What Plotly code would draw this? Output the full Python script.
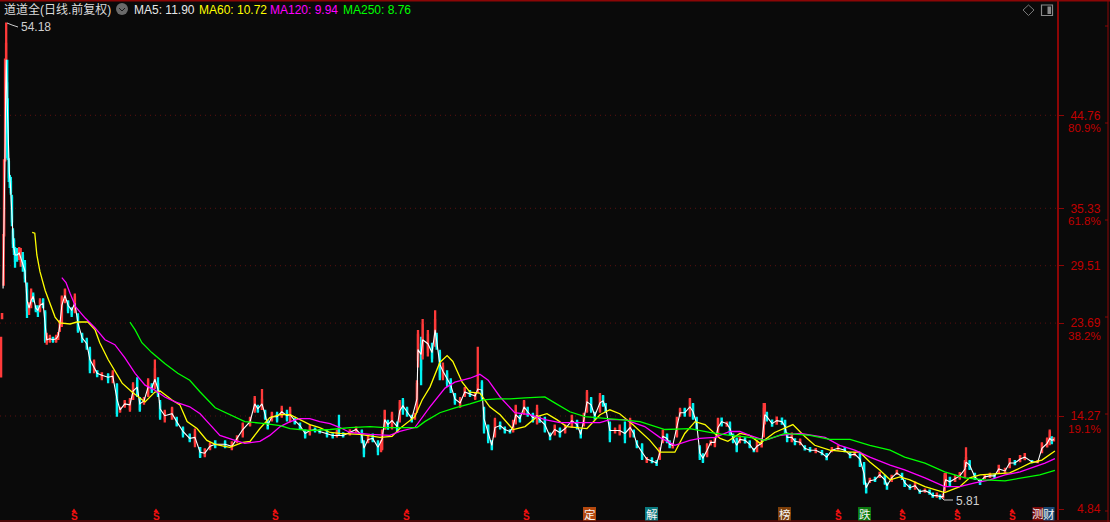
import plotly.graph_objects as go

W, H = 1110, 522

# ---------- candles (price units) ----------
session = [
    0,2,5,6,8,10,12,13,15,17, 19,21,23,25,27,31,35,38,42,46, 50,54,58,62,67,71,75,81,85,88,
    94,100,106,110,113,117,123,129,136,142, 148,156,165,171,179,185,194,206,215,223,
    229,238,248,254,262,267,275,283,290,296, 302,306,315,329,338,350,363,373,383,392,
    402,412,431,444,454,465,479,488,494,502, 508,513,521,531,540,550,556,565,575,585,
    594,604,613,627,638,646,650,658,671,683, 694,698,706,715,725,731,733,738,744,752,
    762,767,773,781,790,796,800,802,808,811, 821,829,835,838,844,850,858,865,873,883,
    892,902,912,917,925,929,937,944,950,960, 969,979,985,990,998,1006,1013,1023,1031,1036,
    1046,1056,1065,1075,1085,1098,1108,1115,1121,1127, 1135,1142,1152,1158,1163,1171,1181,1190,1200,1210,
    1217,1223,1233,1242,1252,1261,1267,1273,1281,1286, 1292,1300,1306,1315,1325,1331,1338,1344,1350,1358,
    1365,1373,1379,1386,1396,1402,1408,1415,1421,1431, 1440,1448,1454,1463,1467,1469,1473,1483,1492,1502,
    1508,1512,1521,1527,1537,1546,1556,1567,1579,1588, 1598,1610,1623,1633,1642,1652,1660,1664,1671,1681,
    1690,1700,1704,1713,1723,1733,1738,1748,1758,1767, 1777,1786,1792,1800,1806,1812,1815,1817,1825,1835,
    1844,1854,1856,1863,1873,1883,1892,1902,1911,1919, 1931,1940,1950,1960,1969,1983,1994,2002,2012,2017,
    2021,2025,
]
high = [
    22.2,24.6,32.6,40.2,50.4,54.18,50.4,46.5,40.4,38.7, 38.5,36.7,33.3,32.3,31.4,31.3,31.4,31.3,30.9,30.1, 27.8,25.8,27.2,26.8,25.5,25.5,26.2,26.2,25.0,22.7,
    22.5,22.3,22.5,22.8,24.0,26.5,27.2,26.0,25.3,26.7, 24.7,22.7,22.2,21.3,20.0,18.9,18.7,18.6,18.9,17.6,
    15.2,15.9,16.1,17.7,18.2,16.2,16.2,18.1,17.6,20.0, 18.2,15.9,14.9,15.2,14.2,13.2,12.5,13.0,11.1,11.0,
    11.6,11.8,11.8,11.7,12.3,13.6,14.2,16.3,15.4,17.0, 14.9,13.9,14.7,14.7,15.3,14.9,15.2,14.1,13.6,12.9,
    13.4,13.1,12.9,12.9,12.5,12.9,14.4,12.6,12.9,13.2, 12.9,11.8,12.3,12.5,11.8,11.8,12.9,14.9,13.9,14.7,
    13.7,15.9,16.1,15.2,14.4,14.6,17.9,23.0,22.3,24.1, 23.0,21.7,25.0,22.7,21.0,19.7,18.9,18.1,16.6,16.2,
    17.2,16.9,16.6,21.3,17.9,15.2,13.4,11.8,14.1,13.7, 13.2,12.9,13.9,15.4,14.4,15.9,15.2,14.6,15.4,14.2,
    14.2,12.6,13.4,13.1,13.4,14.4,13.9,12.9,14.6,16.9, 16.2,14.7,16.6,16.4,15.6,13.7,13.1,13.4,13.7,14.1,
    12.9,11.8,11.5,10.1,10.1,9.8,11.1,12.9,12.5,11.8, 11.5,14.2,15.1,15.1,16.1,15.6,14.2,11.3,10.5,11.5,
    11.8,12.1,14.1,14.1,13.7,13.7,12.5,12.1,12.3,12.1, 11.8,11.0,11.8,12.0,15.6,15.6,14.7,13.9,14.2,14.1,
    13.9,12.6,12.6,12.0,12.0,11.3,11.1,11.0,10.8,10.5, 11.1,11.3,11.1,10.6,10.6,10.6,9.6,7.5,8.0,8.1,
    8.6,8.3,7.5,8.3,8.8,8.5,7.8,7.3,7.6,6.8, 6.9,6.8,6.5,6.5,6.3,6.4,8.5,8.5,8.1,8.3,
    8.6,9.8,11.1,9.8,8.5,7.8,8.3,8.5,8.4,9.3, 9.0,10.0,9.8,10.3,10.5,9.8,9.8,11.6,12.1,12.9,
    12.2,12.1,
]
low = [
    18.3,24.2,27.6,32.6,40.2,49.0,40.4,40.2,38.0,37.4, 36.7,33.5,31.3,30.6,29.3,29.9,30.1,29.4,28.9,27.8, 24.2,24.5,25.2,25.8,24.8,24.3,24.8,25.2,21.7,21.5,
    21.7,21.7,21.7,22.0,22.8,23.3,25.7,24.7,24.3,24.7, 22.7,21.7,21.0,18.6,18.6,18.2,17.9,17.6,17.6,14.2,
    14.6,15.1,14.7,15.9,16.2,14.7,15.4,16.2,16.6,17.0, 16.2,13.9,13.6,13.9,13.2,12.1,11.6,11.1,10.0,10.1,
    10.8,11.0,11.0,10.8,11.5,12.1,13.2,14.6,14.6,14.9, 13.9,12.9,13.7,13.6,14.1,13.7,13.6,13.4,12.9,12.0,
    12.3,12.6,12.5,12.1,12.0,12.1,12.3,12.1,12.3,12.6, 11.5,10.1,11.5,11.6,10.3,10.6,10.8,12.9,12.9,12.9,
    12.6,13.6,14.4,14.2,13.6,13.9,14.6,19.2,17.4,20.0, 20.3,19.7,21.3,21.0,17.9,17.9,17.2,16.6,15.4,15.1,
    16.2,16.2,15.9,16.6,15.9,12.5,11.5,10.8,12.1,12.9, 12.5,12.5,12.6,13.4,13.6,14.4,14.2,13.6,13.4,13.6,
    12.6,11.8,12.3,12.1,12.5,13.1,12.9,12.0,13.2,14.6, 14.6,13.9,14.6,15.2,14.6,11.6,12.5,12.3,11.5,12.1,
    12.1,11.0,9.8,9.5,9.5,9.2,9.8,11.5,11.5,11.0, 11.0,12.1,14.2,14.2,14.2,13.9,12.9,9.8,9.5,10.1,
    11.3,11.1,12.1,13.2,13.2,12.3,11.5,10.6,11.5,11.5, 11.0,10.6,10.6,11.1,12.1,13.4,13.7,13.2,13.4,13.4,
    12.5,11.6,11.6,11.3,11.3,10.8,10.6,10.5,10.3,9.8, 10.6,10.8,10.6,10.0,10.2,9.1,7.3,6.4,7.5,7.6,
    8.0,7.3,6.8,7.6,8.3,7.8,7.1,6.8,6.8,6.4, 6.5,6.3,6.0,6.0,5.81,5.9,6.6,7.1,7.1,7.6,
    7.8,8.0,9.1,8.8,7.8,7.3,8.0,8.0,8.0,8.5, 8.5,9.0,9.3,9.6,9.8,9.5,9.5,10.5,11.1,11.3,
    11.4,11.7,
]
opening = [
    18.3,24.2,27.6,32.6,40.2,50.4,48.0,44.0,40.0,38.5, 38.0,36.4,33.0,32.0,31.0,31.0,30.5,30.0,30.5,29.7, 27.0,25.0,25.7,26.5,25.3,25.3,25.0,26.0,24.7,21.8,
    21.9,22.2,21.9,22.1,23.0,23.6,26.0,25.8,25.1,25.0, 24.3,22.5,21.9,21.0,19.0,18.8,18.2,18.4,18.0,17.4,
    14.8,15.3,15.0,16.0,17.8,16.0,15.7,16.4,17.3,17.3, 17.5,15.6,14.0,14.0,14.0,13.0,12.3,11.6,11.0,10.3,
    11.0,11.7,11.6,11.0,11.7,12.4,13.4,14.9,15.2,15.0, 14.7,13.6,13.9,14.4,14.3,14.6,13.9,13.9,13.5,12.7,
    12.5,13.0,12.8,12.7,12.4,12.3,12.8,12.5,12.4,12.7, 12.7,11.6,11.7,12.3,11.6,10.9,11.0,13.0,13.7,13.2,
    13.5,14.0,15.8,15.0,14.2,14.0,15.0,20.0,21.5,20.5, 20.8,21.2,22.0,22.4,20.7,18.2,18.5,17.8,16.4,15.4,
    16.4,16.7,16.1,16.8,17.6,15.0,13.2,11.6,12.4,13.5, 13.0,12.8,12.8,13.6,14.2,14.6,15.0,14.4,13.6,14.1,
    14.0,12.4,12.5,12.9,12.7,13.3,13.7,12.7,13.4,14.8, 16.0,14.5,14.8,16.2,15.4,13.5,12.6,12.5,13.0,12.4,
    12.7,11.6,11.3,9.7,9.9,9.7,10.0,11.7,12.3,11.6, 11.1,12.3,14.4,14.9,14.4,15.4,14.0,11.0,10.3,10.3,
    11.4,11.3,12.3,14.0,13.3,13.5,12.3,11.9,11.7,12.0, 11.6,10.9,10.7,11.2,12.3,13.6,14.5,13.8,13.5,14.0,
    13.7,12.4,11.8,11.9,11.5,11.2,11.0,10.6,10.7,10.4, 10.7,10.9,11.0,10.5,10.3,10.4,9.3,7.3,7.6,8.0,
    8.1,8.2,7.4,7.7,8.4,8.4,7.7,7.2,6.9,6.7, 6.6,6.7,6.4,6.1,6.2,6.0,6.8,7.3,8.0,7.7,
    8.0,8.2,9.3,9.6,8.4,7.7,8.0,8.1,8.3,8.6, 8.6,9.1,9.7,9.7,9.9,9.7,9.6,10.6,11.2,11.5,
    12.1,11.8,
]
closing = [
    22.2,24.6,32.6,40.2,50.4,52.0,43.0,40.4,38.5,37.5, 37.0,34.0,31.8,31.0,30.0,30.3,31.0,30.8,29.5,28.3, 25.0,25.5,26.8,26.0,25.0,24.8,25.9,25.4,22.0,22.3,
    22.3,21.9,22.3,22.6,23.8,26.2,27.0,25.0,24.6,26.3, 23.0,22.0,21.3,19.0,19.7,18.4,18.6,18.0,18.6,14.6,
    15.0,15.7,15.8,17.4,16.5,15.0,16.0,17.8,16.9,19.0, 16.5,14.2,14.6,15.0,13.4,12.4,11.8,12.6,10.2,10.8,
    11.4,11.2,11.2,11.5,12.2,13.4,14.0,16.0,14.8,15.9, 14.1,13.1,14.5,13.9,15.0,14.0,14.9,13.6,13.0,12.2,
    13.1,12.8,12.6,12.3,12.2,12.6,12.4,12.2,12.8,13.1, 11.8,10.5,12.1,11.8,10.7,11.5,12.7,14.7,13.0,14.4,
    12.9,15.6,14.8,14.4,13.8,14.4,17.5,22.5,19.0,23.5, 22.5,20.2,24.0,21.3,18.3,19.3,17.6,17.0,15.7,15.9,
    17.0,16.4,16.5,17.4,16.2,12.9,11.8,11.0,13.8,13.1, 12.7,12.6,13.7,15.2,13.8,15.7,14.4,13.8,15.0,13.7,
    12.8,12.0,13.2,12.3,13.2,14.2,13.1,12.2,14.4,16.6, 14.9,14.1,16.3,15.4,14.8,12.0,12.9,13.1,12.0,13.8,
    12.3,11.2,10.0,10.0,9.6,9.4,10.9,12.7,11.7,11.2, 11.4,14.0,14.9,14.4,15.9,14.1,13.1,10.1,9.7,11.3,
    11.7,11.9,13.9,13.4,13.6,12.5,11.7,10.8,12.1,11.6, 11.2,10.7,11.6,11.9,15.0,15.3,13.9,13.3,14.1,13.5,
    12.7,11.8,12.4,11.5,11.8,10.9,10.7,10.9,10.4,9.9, 11.0,11.2,10.7,10.1,10.5,9.3,7.6,6.6,7.9,7.7,
    8.5,7.5,6.9,8.2,8.7,7.9,7.2,6.9,7.5,6.5, 6.8,6.4,6.1,6.4,6.0,6.3,8.2,8.2,7.3,8.1,
    8.4,9.6,10.0,9.0,7.9,7.4,8.2,8.4,8.1,9.2, 8.9,9.9,9.4,10.2,10.4,9.6,9.7,11.4,11.9,12.6,
    11.6,12.0,
]

# ---------- moving averages ----------
ma5_session = [
    4,5,6,7,8,9,10,12,14,16,18,20,22,24,27,
    31,35,40,46,50,54,58,62,67,71,75,81,85,88,94,
    100,106,110,113,117,123,129,136,142,148,156,165,171,179,185,
    194,206,215,223,229,238,248,254,262,267,275,283,290,296,302,
    306,315,329,338,350,363,373,383,392,402,412,431,444,454,465,
    479,488,494,502,508,513,521,531,540,550,556,565,575,585,594,
    604,613,627,638,658,671,683,694,698,706,715,725,733,738,744,
    752,762,767,773,781,790,800,802,808,811,821,829,835,838,844,
    850,858,865,873,883,892,902,912,917,925,929,937,944,950,960,
    969,979,985,990,998,1006,1013,1023,1031,1036,1046,1056,1065,1075,1085,
    1098,1108,1115,1121,1127,1135,1142,1152,1158,1163,1171,1181,1190,1200,1210,
    1217,1223,1233,1242,1252,1261,1267,1273,1281,1286,1292,1300,1306,1315,1325,
    1331,1338,1344,1350,1358,1365,1373,1379,1386,1396,1402,1408,1415,1421,1431,
    1440,1448,1454,1463,1467,1469,1473,1483,1492,1502,1508,1512,1521,1527,1537,
    1546,1556,1567,1579,1588,1598,1610,1623,1633,1642,1652,1660,1664,1671,1681,
    1690,1700,1704,1713,1723,1733,1738,1748,1758,1767,1777,1786,1792,1800,1806,
    1812,1815,1817,1825,1835,1844,1854,1856,1863,1873,1883,1892,1902,1911,1919,
    1931,1940,1950,1960,1969,1983,1994,2002,2012,2017,2021,2025,
]
ma5_value = [
    27.2,30,33,37,42,47,50.4,46,41.5,39,37.8,35.8,33,31.6,30.6,
    30.6,30.8,30,29,26,25.2,26,26.4,25.2,25,25.5,25.7,23.5,22,22.1,
    22,22.1,22.4,23.4,25.5,26.5,25.5,25,25.7,23.7,22.2,21.6,20,19.2,18.6,
    18.4,18.2,18.3,16,14.9,15.5,15.4,16.8,17.2,15.5,15.8,17.2,17.1,18,17,
    15,14.3,14.5,13.7,12.7,12,12.1,10.6,10.5,11.2,11.4,11.4,11.2,12,12.9,
    13.7,15.5,15,15.5,14.4,13.3,14.2,14.2,14.7,14.3,14.4,13.8,13.3,12.5,12.8,
    12.9,12.7,12.5,12.3,12.3,12.6,12.9,12.3,11,11.9,12,11.1,11.9,13.9,13.4,
    13.8,13.2,14.8,15.3,14.7,14,16,21,20.5,22,21.6,20.7,23,21.9,19.5,
    18.8,18,17.4,16,15.6,16.7,16.5,16.3,17,16.9,14,12.5,11.3,13.1,13.3,
    12.9,12.7,13.2,14.4,14,15.2,14.7,14.1,14.3,13.9,13.4,12.2,12.9,12.6,13,
    13.8,13.4,12.4,13.9,15.7,15.4,14.3,15.6,15.8,15.1,12.8,12.8,12.8,12.5,13.1,
    12.5,11.4,10.6,9.9,9.7,9.5,10.5,12.2,12,11.4,11.3,13.2,14.6,14.6,15.2,
    14.7,13.5,10.5,10,10.8,11.6,11.6,13.1,13.7,13.5,13,12,11.3,11.9,11.8,
    11.4,10.8,11.2,11.5,13.7,14.4,14.2,13.5,13.8,13.7,13.2,12.1,12.1,11.7,11.6,
    11,10.8,10.8,10.5,10.1,10.8,11,10.8,10.3,10.4,9.9,8.4,7,7.7,7.8,
    8.3,7.8,7.2,8,8.5,8.1,7.5,7,7.2,6.6,6.7,6.5,6.2,6.2,6.1,
    6.1,7.5,7.8,7.6,7.9,8.2,8.9,9.6,9.3,8.1,7.6,8.1,8.2,8.2,8.9,
    8.7,9.5,9.5,9.9,10.1,9.6,9.6,11,11.5,12,11.8,11.9,
]
ma60_session = [
    60,65,69,75,85,94,104,113,133,146,167,181,190,206,219,233,252,277,296,306,
    329,344,358,377,396,412,440,465,479,498,517,537,556,575,594,613,633,652,690,729,
    752,767,796,810,825,844,858,869,887,902,921,940,960,985,1008,1031,1050,1069,1088,1127,
    1152,1171,1190,1215,1248,1267,1296,1315,1335,1354,1383,1398,1421,1440,1460,1488,1523,1546,1565,1594,
    1633,1652,1671,1690,1710,1729,1748,1777,1796,1815,1844,1863,1883,1921,1940,1960,1979,2002,2017,2027,
]
ma60_value = [
    32.9,32.8,30.6,28.9,27.0,25.8,24.3,23.7,23.6,23.8,23.8,23.0,21.7,20.0,18.9,17.6,16.7,15.7,16.7,16.8,
    15.9,15.4,13.7,13.0,11.8,11.4,11.1,11.6,11.7,13.0,14.1,14.4,14.4,13.9,13.4,13.1,12.6,12.5,12.4,12.1,
    12.2,13.0,14.2,15.9,17.2,19.7,20.4,19.8,17.7,16.7,16.6,15.2,14.4,12.9,13.2,14.2,14.5,13.9,13.2,13.0,
    14.4,14.9,14.5,13.4,11.8,10.6,10.6,12.5,13.7,13.4,12.0,11.7,12.5,12.3,11.5,12.6,13.4,12.2,11.3,10.8,
    10.6,10.6,9.6,8.8,7.8,8.1,7.8,7.1,6.8,6.5,7.1,8.0,8.3,8.4,8.5,9.0,9.5,9.8,10.3,10.72,
]
ma120_session = [
    117,125,133,144,162,181,200,219,238,258,277,296,315,335,363,383,402,421,450,469,
    498,517,537,556,575,594,613,633,652,671,690,710,748,767,796,825,854,873,902,921,
    937,960,988,1017,1046,1075,1113,1152,1171,1200,1238,1267,1296,1325,1344,1373,1402,1421,1440,1469,
    1498,1537,1585,1613,1642,1671,1710,1738,1777,1815,1844,1873,1902,1931,1960,1988,2008,2027,
]
ma120_value = [
    28.3,27.8,26.7,25.3,24.2,23.2,22.0,21.5,20.2,18.6,17.4,16.9,16.2,15.7,15.2,14.5,13.4,12.3,11.8,11.5,
    11.7,12.3,13.2,13.7,14.0,14.0,13.7,13.5,13.1,12.6,12.5,12.4,12.3,12.7,13.1,15.2,17.1,17.7,18.1,18.5,
    17.9,16.2,14.6,14.4,13.9,13.6,13.6,13.6,13.9,13.9,13.2,12.1,11.3,11.8,12.0,12.1,12.7,12.7,12.3,11.8,
    12.3,12.5,12.1,11.3,10.8,10.1,9.3,8.8,8.0,7.1,7.1,7.5,7.8,8.3,8.6,9.1,9.5,9.94,
]
ma250_session = [
    248,258,271,290,315,340,363,383,412,450,469,508,537,556,594,633,671,710,738,800,
    815,844,873,902,927,954,979,1008,1046,1065,1094,1123,1152,1190,1229,1258,1277,1325,1363,1402,
    1440,1469,1508,1556,1594,1633,1671,1710,1738,1777,1815,1854,1892,1931,1969,1998,2027,
]
ma250_value = [
    23.8,23.0,21.7,20.7,19.6,18.6,17.9,16.7,15.1,14.2,13.7,13.5,13.3,13.0,12.8,12.9,13.1,13.2,13.1,13.1,
    13.7,14.6,15.1,15.5,15.9,16.0,16.0,16.1,16.2,15.6,14.7,14.2,14.1,13.9,13.7,13.2,12.9,13.0,12.6,12.3,
    12.1,11.8,12.5,12.3,11.9,11.9,11.3,10.8,10.1,9.5,8.6,8.0,7.8,7.7,8.0,8.3,8.76,
]

# ---------- axis labels ----------
tick_values = [44.76, 35.33, 29.51, 23.69, 14.27, 4.84]
tick_labels = ["44.76", "35.33", "29.51", "23.69", "14.27", "\u20074.84"]
dotted_levels = [44.76, 35.33, 29.51, 23.69, 14.27]
percent_levels = [44.76, 35.33, 23.69, 14.27]
percent_labels = ["80.9%", "61.8%", "38.2%", "19.1%"]

# ---------- header and event labels ----------
title_text = "道道全(日线.前复权)"
legend_texts = ["MA5: 11.90", "MA60: 10.72", "MA120: 9.94", "MA250: 8.76"]
legend_colors = ["#e8e8e8", "#ffff00", "#ff00ff", "#00ff00"]
legend_left = [132.5, 198, 269, 342]
signal_left = [74, 156, 275, 407, 526, 838, 902, 957, 1012]
badge_texts = ["定", "解", "榜", "跌", "测", "财"]
badge_colors = ["#b5490f", "#0b7a80", "#7d3f0a", "#0b7a10", "#7a0a0a", "#1a4a78"]
badge_left = [589.5, 651.5, 784.5, 864.5, 1038, 1049]

BG = "#0a0a0a"
AXIS = "#8c0606"
FONT = "Liberation Sans, Noto Sans CJK SC, sans-serif"


def px(x):
    return x / W


def py(y):
    return 1 - y / H


fig = go.Figure()
fig.add_trace(go.Candlestick(
    x=session, open=opening, high=high, low=low, close=closing,
    increasing=dict(line=dict(color="#ff3a3a", width=2.3), fillcolor="#ff3a3a"),
    decreasing=dict(line=dict(color="#00f2f2", width=2.3), fillcolor="#00f2f2"),
    whiskerwidth=0, hoverinfo="skip", showlegend=False,
))
for xs, ys, color, width in [
    (ma5_session, ma5_value, "#ffffff", 1.1),
    (ma60_session, ma60_value, "#ffff00", 1.3),
    (ma120_session, ma120_value, "#ff00ff", 1.3),
    (ma250_session, ma250_value, "#00ff00", 1.3),
]:
    fig.add_trace(go.Scatter(x=xs, y=ys, mode="lines", showlegend=False, hoverinfo="skip",
                             line=dict(color=color, width=width)))

shapes = []
for level in dotted_levels:
    shapes.append(dict(type="line", xref="paper", x0=0, x1=px(1057), yref="y", y0=level, y1=level,
                       line=dict(color="#5c1010", width=1, dash="1px,4px"), layer="below"))
# frame
shapes.append(dict(type="line", xref="paper", yref="paper", x0=0, x1=1, y0=py(0.8), y1=py(0.8),
                   line=dict(color=AXIS, width=1.5)))
shapes.append(dict(type="line", xref="paper", yref="paper", x0=0, x1=1, y0=py(521), y1=py(521),
                   line=dict(color=AXIS, width=1.2)))
shapes.append(dict(type="line", xref="paper", yref="paper", x0=px(1108), x1=px(1108), y0=0, y1=1,
                   line=dict(color=AXIS, width=1)))
for yy in [26, 123, 220, 317, 414, 511]:
    shapes.append(dict(type="line", xref="paper", yref="paper", x0=px(1105), x1=px(1108), y0=py(yy), y1=py(yy),
                       line=dict(color=AXIS, width=1)))
# header icons
shapes.append(dict(type="circle", xref="paper", yref="paper", x0=px(116), x1=px(128), y0=py(15), y1=py(3),
                   fillcolor="#6a6a6a", line=dict(width=0)))
shapes.append(dict(type="path", xref="paper", yref="paper", line=dict(color="#1a1a1a", width=1),
                   path=f"M {px(119)} {py(8)} L {px(122)} {py(11)} L {px(125)} {py(8)}"))
shapes.append(dict(type="path", xref="paper", yref="paper", line=dict(color="#777777", width=1),
                   path=f"M {px(1023)} {py(10)} L {px(1028.5)} {py(5)} L {px(1034)} {py(10)} L {px(1028.5)} {py(15.5)} Z"))
shapes.append(dict(type="rect", xref="paper", yref="paper", x0=px(1041.5), x1=px(1052.5), y0=py(15.5), y1=py(5),
                   line=dict(color="#8a8a8a", width=1.2)))
shapes.append(dict(type="rect", xref="paper", yref="paper", x0=px(1047.5), x1=px(1051), y0=py(14), y1=py(6.5),
                   fillcolor="#8a8a8a", line=dict(width=0)))
# pointers to the extreme-price labels
shapes.append(dict(type="path", xref="paper", yref="paper", line=dict(color="#cccccc", width=1),
                   path=f"M {px(7)} {py(23)} L {px(12)} {py(25)} L {px(18)} {py(27)}"))
shapes.append(dict(type="path", xref="paper", yref="paper", line=dict(color="#cccccc", width=1),
                   path=f"M {px(941)} {py(497)} L {px(944)} {py(500)} L {px(953)} {py(500)}"))

annotations = [
    dict(text=title_text, x=px(3), y=py(9.5), font=dict(size=12, color="#dcdcdc", family=FONT), xanchor="left"),
    dict(text="54.18", x=px(20), y=py(27), font=dict(size=12, color="#cfcfcf", family=FONT), xanchor="left"),
    dict(text="5.81", x=px(955), y=py(500.5), font=dict(size=12, color="#cfcfcf", family=FONT), xanchor="left"),
]
for text, color, left in zip(legend_texts, legend_colors, legend_left):
    annotations.append(dict(text=text, x=px(left), y=py(9.5), font=dict(size=12, color=color, family=FONT), xanchor="left"))
for left in signal_left:
    annotations.append(dict(text="<b>S</b>", x=px(left), y=py(516), font=dict(size=10, color="#f01010", family=FONT), xanchor="center"))
    shapes.append(dict(type="path", xref="paper", yref="paper", fillcolor="#f01010", line=dict(width=0),
                       path=f"M {px(left - 2.5)} {py(512)} L {px(left)} {py(508.5)} L {px(left + 2.5)} {py(512)} Z"))
for text, color, left in zip(badge_texts, badge_colors, badge_left):
    half = 6.5 if left < 1030 else 5.5
    shapes.append(dict(type="rect", xref="paper", yref="paper", x0=px(left - half), x1=px(left + half), y0=py(520.5), y1=py(507),
                       fillcolor=color, line=dict(width=0)))
    annotations.append(dict(text=text, x=px(left), y=py(514), font=dict(size=11.5, color="#f4f4f4", family=FONT), xanchor="center"))
for value, label in zip(percent_levels, percent_labels):
    annotations.append(dict(text=label, x=px(1101.5), xref="paper", y=value, yref="y", yshift=-12.5,
                            font=dict(size=11.5, color="#c00000", family=FONT), xanchor="right", yanchor="middle"))
for a in annotations:
    a.setdefault("xref", "paper")
    a.setdefault("yref", "paper")
    a.setdefault("yanchor", "middle")
    a["showarrow"] = False
    a["borderpad"] = 0

fig.update_layout(
    width=W, height=H, autosize=False,
    margin=dict(l=0, r=0, t=0, b=0),
    paper_bgcolor=BG, plot_bgcolor=BG,
    showlegend=False,
    shapes=shapes, annotations=annotations,
    xaxis=dict(domain=[0, 1057 / W], range=[-1.9, 2031], visible=False, rangeslider=dict(visible=False), fixedrange=True),
    yaxis=dict(domain=[2 / H, 521 / H], range=[3.725, 56.35], side="right", anchor="x",
               tickmode="array", tickvals=tick_values, ticktext=tick_labels,
               tickfont=dict(size=12, color="#c00000", family=FONT),
               ticks="outside", ticklen=5, tickcolor=AXIS, tickwidth=1,
               showgrid=False, zeroline=False, showline=True, linecolor=AXIS, linewidth=2,
               ticklabelstandoff=4, fixedrange=True),
)

fig.write_html("out.html", config=dict(displayModeBar=False),
               post_script="document.body.style.margin='0';document.body.style.background='#0a0a0a';document.body.style.overflow='hidden';")
